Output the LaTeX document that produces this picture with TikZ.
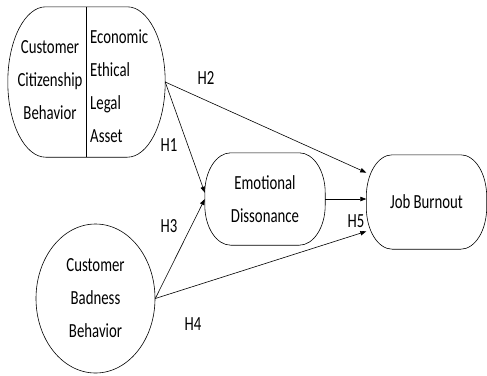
\documentclass[tikz,border=0pt]{standalone}
\usepackage{fontspec}
\setmainfont{Carlito}[FakeStretch=0.74]
\usetikzlibrary{arrows.meta,shapes.geometric}
\tikzset{
  lab/.style={font=\fontsize{20bp}{33bp}\selectfont, inner sep=0pt},
  box/.style={minimum width=120bp, minimum height=92bp, align=center, inner sep=0pt},
  oval/.style={draw, ellipse, line width=0.6pt, align=center, inner sep=0pt},
  rim/.style={draw, line width=0.6pt},
  arr/.style={-{Triangle[length=6bp,width=4.5bp]}, line width=0.6pt},
}
% outline with elliptic corners round a box node: name, x radius, y radius
\newcommand{\softrim}[3]{%
  \path[rim] ([xshift=#2]#1.north west) -- ([xshift=-#2]#1.north east)
    arc[start angle=90, end angle=0, x radius=#2, y radius=#3]
    -- ([yshift=#3]#1.south east)
    arc[start angle=0, end angle=-90, x radius=#2, y radius=#3]
    -- ([xshift=#2]#1.south west)
    arc[start angle=270, end angle=180, x radius=#2, y radius=#3]
    -- ([yshift=-#3]#1.north west)
    arc[start angle=180, end angle=90, x radius=#2, y radius=#3] -- cycle;}
\begin{document}
\begin{tikzpicture}[x=1bp, y=-1bp]
  \useasboundingbox (0,0) rectangle (487,375);
  % antecedent with its four dimensions
  \node[box, minimum width=157bp, minimum height=150bp] (ccb) at (86.5,82) {};
  \softrim{ccb}{38bp}{75bp}
  \draw[line width=0.6pt] (ccb.north) -- (ccb.south);
  \node[lab, align=center] (ccbname) at (50,80) {Customer\\Citizenship\\Behavior};
  \node[lab, align=left, anchor=west] (dims) at (90,86) {Economic\\Ethical\\Legal\\Asset};
  \node[oval, lab, minimum width=119bp, minimum height=149bp] (cbb) at (95.5,298.5) {Customer\\Badness\\Behavior};
  % mediator and outcome
  \node[box, lab] (ed) at (265,199) {Emotional\\Dissonance};
  \softrim{ed}{26bp}{40bp}
  \node[box, lab, minimum height=94bp] (jb) at (426.5,202) {Job Burnout};
  \softrim{jb}{26bp}{42bp}
  % paths
  \draw[arr] (ccb.east) -- (ed.174);
  \draw[arr] (ccb.east) -- (jb.154);
  \draw[arr] (cbb.east) -- (ed.west);
  \draw[arr] (cbb.east) -- (jb.206);
  \draw[arr] (ed.east) -- (ed.east -| jb.west);
  \node[lab] (h1) at (169,145) {H1};
  \node[lab] (h2) at (206,78) {H2};
  \node[lab] (h3) at (169,226) {H3};
  \node[lab] (h4) at (193,324) {H4};
  \node[lab] (h5) at (356,221) {H5};
\end{tikzpicture}
\end{document}
